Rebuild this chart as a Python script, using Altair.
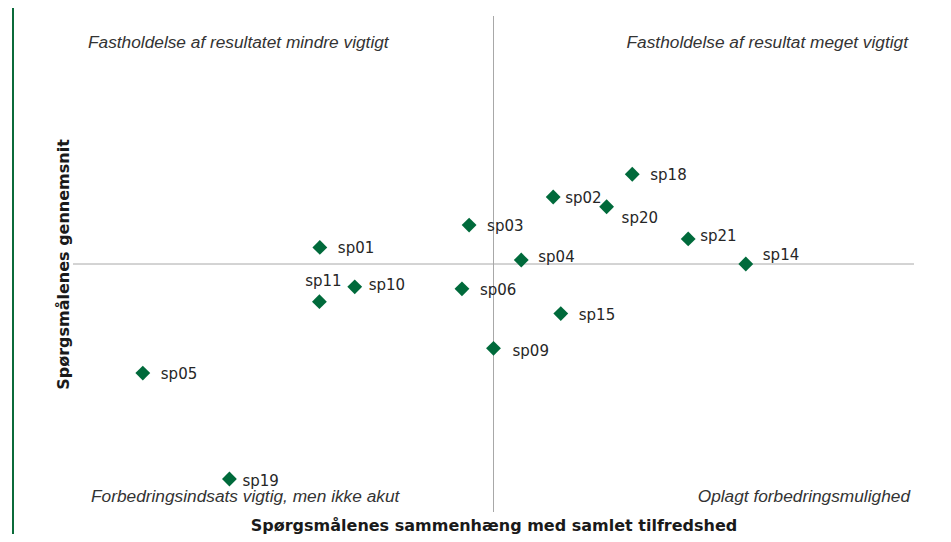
import altair as alt
import pandas as pd

# ---- data (relative units, 0 = average) ----
labels = ["sp01", "sp02", "sp03", "sp04", "sp05", "sp06", "sp09", "sp10",
          "sp11", "sp14", "sp15", "sp18", "sp19", "sp20", "sp21"]
relation = [-0.413, 0.142, -0.058, 0.066, -0.834, -0.075, 0.000, -0.330,
            -0.414, 0.600, 0.160, 0.330, -0.628, 0.269, 0.463]
average = [0.067, 0.270, 0.157, 0.016, -0.440, -0.100, -0.340, -0.092,
           -0.152, 0.000, -0.200, 0.362, -0.867, 0.231, 0.101]

quadrants = ["Fastholdelse af resultatet mindre vigtigt",
             "Fastholdelse af resultat meget vigtigt",
             "Forbedringsindsats vigtig, men ikke akut",
             "Oplagt forbedringsmulighed"]

x_title = "Spørgsmålenes sammenhæng med samlet tilfredshed"
y_title = "Spørgsmålenes gennemsnit"

df = pd.DataFrame({"label": labels, "x": relation, "y": average})
quad_df = pd.DataFrame({"text": quadrants})
one = pd.DataFrame({"k": [0]})

W, H = 841, 496
GREEN = "#006a3b"
GRID = "#a8a8a8"
TEXT = "#262626"

xs = alt.Scale(domain=[-1, 1], nice=False, zero=False)
ys = alt.Scale(domain=[-1, 1], nice=False, zero=False)

base = alt.Chart(df)

points = base.mark_point(shape="diamond", filled=True, size=220, color=GREEN,
                         opacity=1).encode(
    x=alt.X("x:Q", scale=xs, title=x_title),
    y=alt.Y("y:Q", scale=ys, title=y_title),
)

vline = alt.Chart(one).mark_rule(color=GRID, strokeWidth=1).encode(
    x=alt.datum(0, scale=xs))
hline = alt.Chart(one).mark_rule(color=GRID, strokeWidth=1).encode(
    y=alt.datum(0, scale=ys))


def label_layer(names, dx, dy, align="left"):
    return base.transform_filter(
        alt.FieldOneOfPredicate(field="label", oneOf=names)
    ).mark_text(align=align, baseline="middle", dx=dx, dy=dy, font="DejaVu Sans",
                fontSize=15, color=TEXT).encode(
        x=alt.X("x:Q", scale=xs), y=alt.Y("y:Q", scale=ys), text="label:N")


special = ["sp02", "sp20", "sp11", "sp14", "sp21", "sp19", "sp04", "sp10", "sp09"]
normal = [l for l in labels if l not in special]

label_layers = [
    label_layer(normal, 18, 1),
    label_layer(["sp02"], 12, 1),
    label_layer(["sp20"], 15, 11),
    label_layer(["sp11"], 4, -21, align="center"),
    label_layer(["sp14"], 17, -9),
    label_layer(["sp21"], 12, -3),
    label_layer(["sp19"], 13, 2),
    label_layer(["sp04"], 17, -3),
    label_layer(["sp10"], 14, -2),
    label_layer(["sp09"], 19, 3),
]


def quad_text(txt, xd, yd, align, dx, dy):
    return alt.Chart(quad_df).transform_filter(
        alt.FieldEqualPredicate(field="text", equal=txt)
    ).mark_text(
        align=align, baseline="middle", dx=dx, dy=dy,
        font="Liberation Sans", fontStyle="italic", fontWeight="normal",
        fontSize=17.3, color="#333333"
    ).encode(x=alt.datum(xd, scale=xs), y=alt.datum(yd, scale=ys),
             text="text:N")


quads = [
    quad_text(quadrants[0], -1, 1, "left", 15, 27),
    quad_text(quadrants[1], 1, 1, "right", -6, 27),
    quad_text(quadrants[2], -1, -1, "left", 18, -15),
    quad_text(quadrants[3], 1, -1, "right", -4, -15),
]

frame = alt.Chart(one).mark_rule(color="#0b6b3a", strokeWidth=2).encode(
    x=alt.value(-60), y=alt.value(-8), y2=alt.value(H + 22))

chart = alt.layer(vline, hline, frame, points, *label_layers, *quads).properties(
    width=W, height=H,
    autosize=alt.AutoSizeParams(type="none"),
    padding={"left": 65, "top": 8, "right": 29, "bottom": 22},
    background="white",
).configure_view(stroke=None).configure_axis(
    labels=False, ticks=False, domain=False, grid=False,
    titleFont="DejaVu Sans", titleFontSize=16, titleFontWeight="bold",
    titleColor="#1a1a1a",
).configure_axisX(titlePadding=5).configure_axisY(titlePadding=2)

chart.save("out.html", embed_options={"renderer": "svg", "actions": False})
